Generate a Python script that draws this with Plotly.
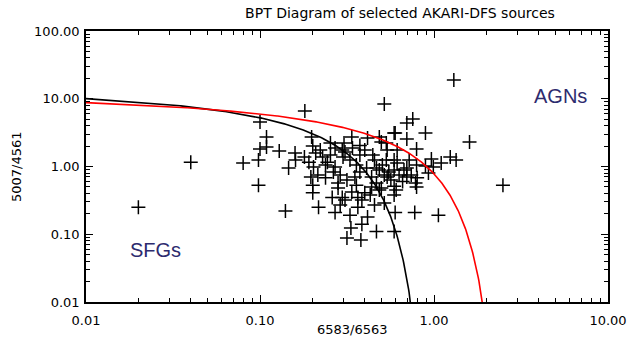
import numpy as np
import plotly.graph_objects as go

# ---- data: [NII]6583/Ha vs [OIII]5007/Hb ratios ----
x_ratio = [0.020, 0.040, 0.080, 0.098, 0.100, 0.100, 0.109, 0.109, 0.098, 0.129,
           0.159, 0.140, 0.217, 0.181, 0.518, 1.30, 0.198, 0.201, 0.304, 0.337,
           0.180, 0.229, 0.244, 0.270, 0.289, 0.316, 0.351, 0.400, 0.410, 0.438,
           0.467, 0.498, 0.532, 0.590, 0.614, 0.672, 0.698, 0.606, 0.538, 0.485,
           0.532, 0.415, 0.297, 0.300, 0.254, 0.270, 0.467, 0.438, 0.400, 0.365,
           0.337, 0.308, 0.281, 0.264, 0.238, 0.203, 0.191, 0.209, 0.281, 0.297,
           0.260, 0.201, 0.201, 0.329, 0.365, 0.385, 0.415, 0.385, 0.755, 0.893,
           0.598, 0.698, 0.794, 1.60, 1.24, 1.34, 1.10, 0.966, 0.991, 0.794,
           0.893, 0.929, 0.698, 0.698, 0.590, 0.590, 0.590, 0.590, 0.783, 0.794,
           2.49, 0.598, 0.775, 1.06, 0.467, 0.590, 0.518, 0.485, 0.498, 0.538,
           0.614, 0.308, 0.329, 0.358, 0.375, 0.455, 0.505, 0.550, 0.565, 0.630,
           0.660, 0.518, 0.485, 0.445, 0.375, 0.340, 0.222, 0.238, 0.254, 0.215,
           0.196, 0.358, 0.430, 0.455, 0.333, 0.316, 0.380, 0.270, 0.289, 0.720,
           0.740, 0.800, 0.375, 0.160, 0.146]
y_ratio = [0.25, 1.16, 1.13, 0.53, 4.54, 1.81, 2.72, 1.94, 1.25, 1.69,
           1.58, 0.22, 0.25, 6.59, 8.37, 18.9, 2.72, 2.01, 2.22, 2.72,
           1.38, 1.38, 1.16, 0.98, 0.75, 0.63, 0.70, 1.75, 0.95, 0.70,
           0.57, 0.48, 1.25, 3.12, 1.13, 0.89, 4.39, 0.45, 0.70, 2.72,
           2.22, 2.63, 1.75, 1.38, 2.22, 1.88, 0.95, 0.50, 0.41, 0.35,
           0.42, 0.32, 0.57, 0.83, 0.68, 0.98, 1.16, 1.58, 0.48, 0.35,
           0.35, 0.41, 0.53, 0.19, 0.25, 0.32, 0.18, 0.14, 5.02, 3.12,
           3.12, 2.55, 1.81, 2.30, 1.38, 1.25, 1.13, 1.29, 0.98, 1.05,
           1.02, 0.80, 0.95, 0.70, 1.25, 0.89, 0.51, 0.38, 0.57, 0.50,
           0.53, 0.21, 0.21, 0.19, 0.11, 0.11, 0.29, 0.45, 2.30, 1.75,
           1.75, 1.64, 1.25, 1.05, 0.83, 1.25, 1.05, 0.83, 0.63, 0.75,
           0.60, 0.75, 0.89, 1.48, 1.48, 1.88, 1.75, 1.05, 1.48, 0.75,
           0.70, 0.53, 0.38, 0.27, 0.124, 0.088, 0.082, 0.21, 0.27, 1.25,
           0.75, 0.68, 2.05, 1.25, 0.95]

# demarcation curves: log(y) = A / (log(x) - B) + C
kauff = dict(A=0.61, B=0.05, C=1.30)   # Kauffmann et al. 2003
kewley = dict(A=0.61, B=0.47, C=1.19)  # Kewley et al. 2001

x_ticks = [0.01, 0.1, 1, 10]
x_ticktext = ["0.01", "0.10", "1.00", "10.00"]
y_ticks = [0.01, 0.1, 1, 10, 100]
y_ticktext = ["0.01", "0.10", "1.00", "10.00", "100.00"]


def curve(p, lx_end):
    lx = np.linspace(-2.0, lx_end, 600)
    ly = p["A"] / (lx - p["B"]) + p["C"]
    return 10 ** lx, 10 ** ly


kx, ky = curve(kauff, -0.092)
ex, ey = curve(kewley, 0.324)

FONT = "DejaVu Sans"

fig = go.Figure()
fig.add_trace(go.Scatter(x=x_ratio, y=y_ratio, mode="markers",
                         marker=dict(symbol="cross-thin", size=10, color="black",
                                     line=dict(color="black", width=1.5)),
                         showlegend=False, cliponaxis=True))
fig.add_trace(go.Scatter(x=kx, y=ky, mode="lines",
                         line=dict(color="black", width=1.6), showlegend=False))
fig.add_trace(go.Scatter(x=ex, y=ey, mode="lines",
                         line=dict(color="#ff0000", width=1.6), showlegend=False))

axis_common = dict(
    type="log", showgrid=False, zeroline=False, showline=True, linecolor="black",
    linewidth=1.6, mirror="ticks", ticks="inside", ticklen=7, tickwidth=1.2,
    tickcolor="black", tickfont=dict(family=FONT, size=13, color="black"),
    minor=dict(ticks="inside", ticklen=4, tickwidth=1, tickcolor="black",
               dtick="D1", showgrid=False),
)

fig.update_xaxes(**axis_common, range=[-2, 1], tickvals=x_ticks,
                 ticktext=x_ticktext, ticklabelstandoff=6)
fig.update_yaxes(**axis_common, range=[-2, 2], tickvals=y_ticks,
                 ticktext=y_ticktext, ticklabelstandoff=2)

fig.update_layout(
    width=639, height=348,
    margin=dict(l=86, r=21, t=31, b=46),
    paper_bgcolor="white", plot_bgcolor="white",
    title=dict(text="BPT Diagram of selected AKARI-DFS sources",
               font=dict(family=FONT, size=14, color="black"),
               x=400 / 639, xref="container", xanchor="center",
               y=1 - 13 / 348, yref="container", yanchor="middle",
               pad=dict(t=0, b=0)),
    annotations=[
        dict(text="6583/6563", x=0.51, xref="paper", y=-0.103, yref="paper",
             yanchor="middle", showarrow=False,
             font=dict(family=FONT, size=13, color="black")),
        dict(text="5007/4561", x=-0.133, xref="paper", y=0.5, yref="paper",
             textangle=-90, showarrow=False, xanchor="center",
             font=dict(family=FONT, size=13, color="black")),
        dict(text="AGNs", x=np.log10(5.3), y=np.log10(11.0), xref="x", yref="y",
             showarrow=False, font=dict(family="Liberation Sans", size=20,
                                        color="#2d2b6e")),
        dict(text="SFGs", x=np.log10(0.025), y=np.log10(0.058), xref="x", yref="y",
             showarrow=False, font=dict(family="Liberation Sans", size=20,
                                        color="#2d2b6e")),
    ],
)

fig.write_html("out.html")
